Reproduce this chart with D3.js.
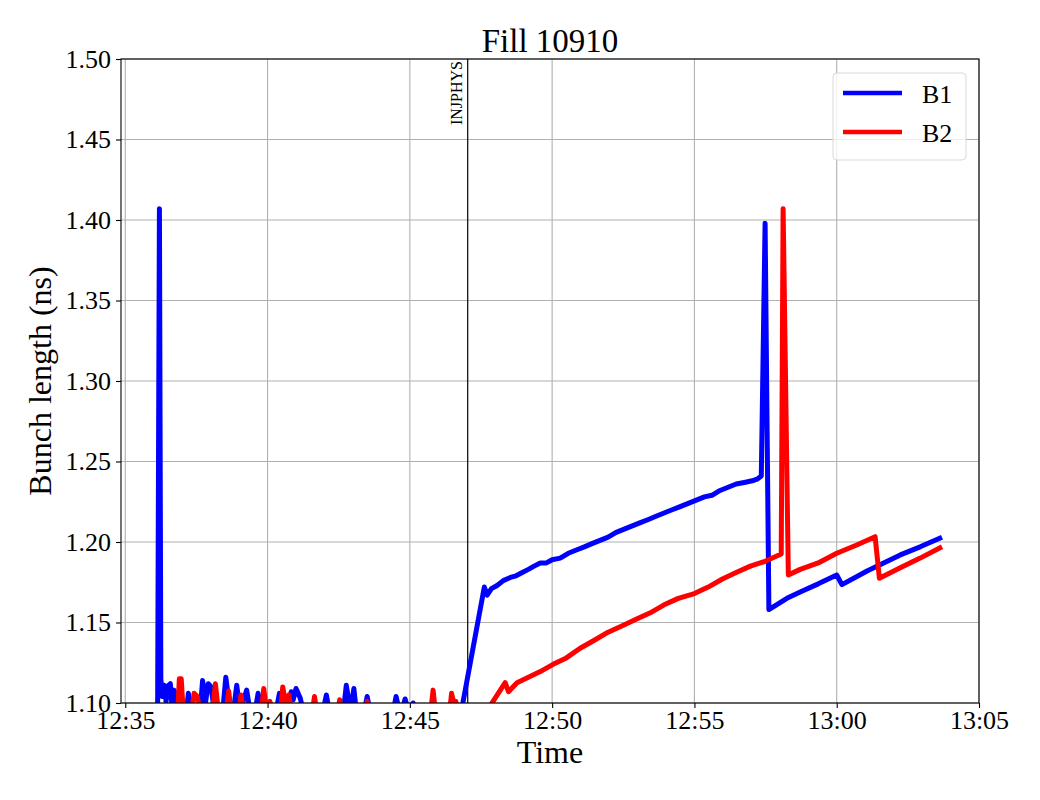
<!DOCTYPE html>
<html>
<head>
<meta charset="utf-8">
<script src="https://cdn.jsdelivr.net/npm/d3@7"></script>
<style>
  body { margin: 0; background: #fff; }
  text { font-family: "Liberation Serif", "DejaVu Serif", serif; fill: #000; }
</style>
</head>
<body>
<div id="chart"></div>
<script>
var width = 1040;
var height = 800;
var margin = { top: 59, right: 61, bottom: 97, left: 121 };

var chartTitle = "Fill 10910";
var xLabel = "Time";
var yLabel = "Bunch length (ns)";
var xDomain = ["12:34:51", "13:05:00"];
var yDomain = [1.10, 1.50];
var yTicks = [1.10, 1.15, 1.20, 1.25, 1.30, 1.35, 1.40, 1.45, 1.50];
var markerTime = "12:47:02";
var markerLabel = "INJPHYS";

// B1 readings [time, bunch length]
var b1 = [
  ["12:36:08", 1.080], ["12:36:12", 1.407], ["12:36:15", 1.115], ["12:36:18", 1.104],
  ["12:36:22", 1.111], ["12:36:26", 1.101], ["12:36:31", 1.111], ["12:36:35", 1.112],
  ["12:36:39", 1.096], ["12:36:43", 1.108], ["12:36:52", 1.090], ["12:37:09", 1.095],
  ["12:37:13", 1.106], ["12:37:17", 1.095], ["12:37:38", 1.095], ["12:37:43", 1.114],
  ["12:37:49", 1.100], ["12:37:55", 1.112], ["12:38:01", 1.110], ["12:38:08", 1.094],
  ["12:38:24", 1.090], ["12:38:32", 1.116], ["12:38:39", 1.100], ["12:38:48", 1.095],
  ["12:38:55", 1.111], ["12:39:02", 1.095], ["12:39:16", 1.108], ["12:39:23", 1.095],
  ["12:39:34", 1.095], ["12:39:40", 1.106], ["12:39:47", 1.095], ["12:40:18", 1.095],
  ["12:40:25", 1.106], ["12:40:32", 1.095], ["12:40:44", 1.096], ["12:40:50", 1.107],
  ["12:40:54", 1.102], ["12:41:00", 1.109], ["12:41:09", 1.103], ["12:41:15", 1.095],
  ["12:41:57", 1.095], ["12:42:04", 1.105], ["12:42:10", 1.095], ["12:42:40", 1.095],
  ["12:42:46", 1.111], ["12:42:55", 1.095], ["12:43:02", 1.109], ["12:43:07", 1.095],
  ["12:43:24", 1.095], ["12:43:30", 1.104], ["12:43:36", 1.095], ["12:44:25", 1.095],
  ["12:44:31", 1.104], ["12:44:38", 1.095], ["12:44:44", 1.096], ["12:44:50", 1.1025],
  ["12:44:57", 1.095], ["12:45:07", 1.1], ["12:45:12", 1.094], ["12:46:48", 1.094],
  ["12:47:37", 1.172], ["12:47:43", 1.167], ["12:47:52", 1.171], ["12:48:04", 1.173],
  ["12:48:17", 1.176], ["12:48:32", 1.178], ["12:48:44", 1.179], ["12:48:57", 1.181],
  ["12:49:10", 1.183], ["12:49:22", 1.185], ["12:49:35", 1.187], ["12:49:48", 1.187],
  ["12:50:00", 1.189], ["12:50:17", 1.190], ["12:50:34", 1.193], ["12:50:51", 1.195],
  ["12:51:08", 1.197], ["12:51:24", 1.199], ["12:51:41", 1.201], ["12:51:58", 1.203],
  ["12:52:15", 1.206], ["12:52:32", 1.208], ["12:52:49", 1.210], ["12:53:06", 1.212],
  ["12:53:23", 1.214], ["12:53:39", 1.216], ["12:53:56", 1.218], ["12:54:13", 1.220],
  ["12:54:30", 1.222], ["12:54:47", 1.224], ["12:55:04", 1.226], ["12:55:21", 1.228],
  ["12:55:37", 1.229], ["12:55:54", 1.232], ["12:56:11", 1.234], ["12:56:28", 1.236],
  ["12:56:45", 1.237], ["12:57:02", 1.238], ["12:57:12", 1.239], ["12:57:21", 1.241],
  ["12:57:29", 1.398], ["12:57:37", 1.158], ["12:58:15", 1.165], ["12:58:43", 1.169],
  ["12:59:21", 1.174], ["13:00:00", 1.1795], ["13:00:11", 1.1735], ["13:01:04", 1.182],
  ["13:02:14", 1.192], ["13:02:56", 1.197], ["13:03:42", 1.203]
];

// B2 readings [time, bunch length]
var b2 = [
  ["12:36:10", 1.090], ["12:36:50", 1.090], ["12:36:54", 1.115], ["12:36:58", 1.115],
  ["12:37:02", 1.095], ["12:37:20", 1.095], ["12:37:25", 1.106], ["12:37:32", 1.104],
  ["12:37:38", 1.094], ["12:38:04", 1.094], ["12:38:10", 1.112], ["12:38:16", 1.096],
  ["12:38:33", 1.095], ["12:38:38", 1.1075], ["12:38:43", 1.095], ["12:39:00", 1.095],
  ["12:39:04", 1.105], ["12:39:09", 1.095], ["12:39:47", 1.095], ["12:39:52", 1.109],
  ["12:39:58", 1.095], ["12:40:05", 1.101], ["12:40:10", 1.094], ["12:40:28", 1.095],
  ["12:40:32", 1.110], ["12:40:38", 1.100], ["12:40:45", 1.105], ["12:40:50", 1.094],
  ["12:41:34", 1.094], ["12:41:39", 1.104], ["12:41:44", 1.094], ["12:42:28", 1.094],
  ["12:42:32", 1.102], ["12:42:37", 1.094], ["12:43:26", 1.095], ["12:43:30", 1.101],
  ["12:43:35", 1.094], ["12:45:44", 1.094], ["12:45:49", 1.108], ["12:45:54", 1.094],
  ["12:46:24", 1.095], ["12:46:28", 1.106], ["12:46:33", 1.099], ["12:46:37", 1.101],
  ["12:46:42", 1.090], ["12:47:40", 1.094], ["12:48:21", 1.1126], ["12:48:28", 1.107],
  ["12:48:46", 1.1126], ["12:49:10", 1.116], ["12:49:35", 1.1195], ["12:50:02", 1.124],
  ["12:50:30", 1.128], ["12:50:59", 1.134], ["12:51:29", 1.139], ["12:51:58", 1.144],
  ["12:52:28", 1.148], ["12:52:57", 1.152], ["12:53:27", 1.156], ["12:53:56", 1.161],
  ["12:54:26", 1.165], ["12:55:00", 1.168], ["12:55:29", 1.172], ["12:55:59", 1.177],
  ["12:56:28", 1.181], ["12:56:58", 1.185], ["12:57:29", 1.188], ["12:58:03", 1.1925],
  ["12:58:07", 1.407], ["12:58:18", 1.1795], ["12:58:43", 1.183], ["12:59:21", 1.187],
  ["13:00:00", 1.193], ["13:00:41", 1.198], ["13:01:21", 1.2033], ["13:01:30", 1.1775],
  ["13:02:14", 1.184], ["13:02:56", 1.190], ["13:03:42", 1.197]
];

var seriesNames = ["B1", "B2"];
var seriesColors = ["#0000ff", "#ff0000"];

var parseTime = d3.timeParse("%H:%M:%S");
var series = [b1, b2].map(function (rows) {
  return rows.map(function (r) { return { t: parseTime(r[0]), v: r[1] }; });
});

var svg = d3
  .select("#chart")
  .append("svg")
  .attr("width", width)
  .attr("height", height);

var x = d3.scaleTime()
  .domain(xDomain.map(parseTime))
  .range([margin.left, width - margin.right]);
var y = d3.scaleLinear()
  .domain(yDomain)
  .range([height - margin.bottom, margin.top]);

var plotW = width - margin.left - margin.right;
var plotH = height - margin.top - margin.bottom;
var xTicks = x.ticks(d3.timeMinute.every(5));

// grid
svg.append("g").selectAll("line.gx")
  .data(xTicks)
  .join("line")
  .attr("x1", d => x(d)).attr("x2", d => x(d))
  .attr("y1", margin.top).attr("y2", height - margin.bottom)
  .attr("stroke", "#b0b0b0").attr("stroke-width", 1.1);
svg.append("g").selectAll("line.gy")
  .data(yTicks)
  .join("line")
  .attr("x1", margin.left).attr("x2", width - margin.right)
  .attr("y1", d => y(d)).attr("y2", d => y(d))
  .attr("stroke", "#b0b0b0").attr("stroke-width", 1.1);

svg.append("clipPath").attr("id", "plot-clip")
  .append("rect")
  .attr("x", margin.left).attr("y", margin.top)
  .attr("width", plotW).attr("height", plotH);

// marker line
svg.append("line")
  .attr("x1", x(parseTime(markerTime))).attr("x2", x(parseTime(markerTime)))
  .attr("y1", margin.top).attr("y2", height - margin.bottom)
  .attr("stroke", "#000").attr("stroke-width", 1.2);
svg.append("text")
  .attr("transform", "translate(" + (x(parseTime(markerTime)) - 5.5) + "," + (margin.top + 2) + ") rotate(-90)")
  .attr("text-anchor", "end")
  .style("font-size", "16px")
  .text(markerLabel);

var line = d3.line()
  .x(d => x(d.t))
  .y(d => y(d.v));

svg.append("g")
  .attr("clip-path", "url(#plot-clip)")
  .selectAll("path")
  .data(series)
  .join("path")
  .attr("d", line)
  .attr("fill", "none")
  .attr("stroke", (d, i) => seriesColors[i])
  .attr("stroke-width", 5)
  .attr("stroke-linejoin", "round");

// axes
var xAxis = svg.append("g")
  .attr("transform", "translate(0," + (height - margin.bottom) + ")")
  .call(d3.axisBottom(x).tickValues(xTicks).tickFormat(d3.timeFormat("%H:%M")).tickSize(5).tickPadding(3));
var yAxis = svg.append("g")
  .attr("transform", "translate(" + margin.left + ",0)")
  .call(d3.axisLeft(y).tickValues(yTicks).tickFormat(d3.format(".2f")).tickSize(5).tickPadding(5));
[xAxis, yAxis].forEach(function (g) {
  g.select(".domain").remove();
  g.selectAll("line").attr("stroke", "#000").attr("stroke-width", 1.1);
  g.selectAll("text").style("font-size", "26px").attr("fill", "#000")
    .style("font-family", "'Liberation Serif', serif");
});

// frame
svg.append("rect")
  .attr("x", margin.left).attr("y", margin.top)
  .attr("width", plotW).attr("height", plotH)
  .attr("fill", "none").attr("stroke", "#000").attr("stroke-width", 1.1);

// titles
svg.append("text")
  .attr("x", margin.left + plotW / 2).attr("y", 52)
  .attr("text-anchor", "middle")
  .style("font-size", "33px")
  .text(chartTitle);
svg.append("text")
  .attr("x", margin.left + plotW / 2).attr("y", 763)
  .attr("text-anchor", "middle")
  .style("font-size", "32px")
  .text(xLabel);
svg.append("text")
  .attr("transform", "translate(51," + (margin.top + plotH / 2) + ") rotate(-90)")
  .attr("text-anchor", "middle")
  .style("font-size", "32px")
  .text(yLabel);

// legend
var legend = svg.append("g");
legend.append("rect")
  .attr("x", 833).attr("y", 73).attr("width", 133).attr("height", 87)
  .attr("rx", 4)
  .attr("fill", "#fff").attr("fill-opacity", 0.8)
  .attr("stroke", "#d9d9d9").attr("stroke-width", 1);
seriesNames.forEach(function (name, i) {
  var ly = 93 + i * 39;
  legend.append("line")
    .attr("x1", 843).attr("x2", 902)
    .attr("y1", ly).attr("y2", ly)
    .attr("stroke", seriesColors[i]).attr("stroke-width", 4.5);
  legend.append("text")
    .attr("x", 922).attr("y", ly + 10)
    .style("font-size", "26px")
    .text(name);
});
</script>
</body>
</html>
